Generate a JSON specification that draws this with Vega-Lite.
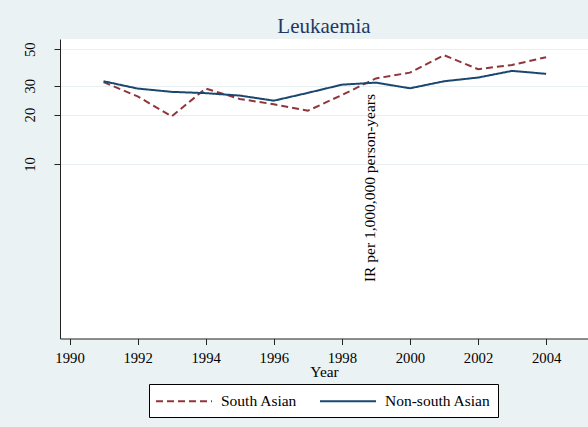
{
  "$schema": "https://vega.github.io/schema/vega-lite/v6.json",
  "autosize": {"type": "none"},
  "width": 528,
  "height": 299.5,
  "padding": {"left": 60, "top": 39, "right": 0, "bottom": 88.5},
  "background": "#eaf2f3",
  "title": {"text": "Leukaemia", "fontSize": 21, "font": "Liberation Serif", "fontWeight": "normal", "color": "#1e3765", "anchor": "middle", "baseline": "alphabetic", "offset": -15.3, "frame": "group"},
  "data": {"values": [
    {"year": 1991, "group": "South Asian", "ir": 31.5},
    {"year": 1992, "group": "South Asian", "ir": 25.8},
    {"year": 1993, "group": "South Asian", "ir": 19.5},
    {"year": 1994, "group": "South Asian", "ir": 28.8},
    {"year": 1995, "group": "South Asian", "ir": 24.9},
    {"year": 1996, "group": "South Asian", "ir": 23.1},
    {"year": 1997, "group": "South Asian", "ir": 21.1},
    {"year": 1998, "group": "South Asian", "ir": 26.3},
    {"year": 1999, "group": "South Asian", "ir": 33.2},
    {"year": 2000, "group": "South Asian", "ir": 36.0},
    {"year": 2001, "group": "South Asian", "ir": 46.0},
    {"year": 2002, "group": "South Asian", "ir": 37.8},
    {"year": 2003, "group": "South Asian", "ir": 40.1},
    {"year": 2004, "group": "South Asian", "ir": 44.7},
    {"year": 1991, "group": "Non-south Asian", "ir": 31.9},
    {"year": 1992, "group": "Non-south Asian", "ir": 28.8},
    {"year": 1993, "group": "Non-south Asian", "ir": 27.5},
    {"year": 1994, "group": "Non-south Asian", "ir": 27.0},
    {"year": 1995, "group": "Non-south Asian", "ir": 26.1},
    {"year": 1996, "group": "Non-south Asian", "ir": 24.3},
    {"year": 1997, "group": "Non-south Asian", "ir": 27.1},
    {"year": 1998, "group": "Non-south Asian", "ir": 30.4},
    {"year": 1999, "group": "Non-south Asian", "ir": 31.3},
    {"year": 2000, "group": "Non-south Asian", "ir": 28.9},
    {"year": 2001, "group": "Non-south Asian", "ir": 31.9},
    {"year": 2002, "group": "Non-south Asian", "ir": 33.6},
    {"year": 2003, "group": "Non-south Asian", "ir": 36.9},
    {"year": 2004, "group": "Non-south Asian", "ir": 35.4}
  ]},
  "mark": {"type": "line", "strokeWidth": 2},
  "encoding": {
    "x": {
      "field": "year", "type": "quantitative",
      "scale": {"domain": [1989.72, 2005.23], "nice": false, "zero": false},
      "axis": {
        "values": [1990, 1992, 1994, 1996, 1998, 2000, 2002, 2004],
        "format": "d",
        "title": "Year",
        "titleFont": "Liberation Serif", "titleFontSize": 15.4, "titleFontWeight": "normal", "titleColor": "#000",
        "titleBaseline": "alphabetic", "titleY": 38.4,
        "labelFont": "Liberation Serif", "labelFontSize": 14.7, "labelColor": "#000",
        "labelPadding": 6, "labelFlush": false, "labelOverlap": false,
        "tickSize": 6, "tickColor": "#222", "domainColor": "#222", "grid": false
      }
    },
    "y": {
      "field": "ir", "type": "quantitative",
      "scale": {"type": "log", "domain": [0.865, 57.7], "nice": false},
      "axis": {
        "values": [10, 20, 30, 50],
        "format": "d",
        "title": "IR per 1,000,000 person-years",
        "titleFont": "Liberation Serif", "titleFontSize": 15.5, "titleFontWeight": "normal", "titleColor": "#000",
        "titleAngle": 270, "titleX": 314, "titleY": 148.5, "titleAlign": "center", "titleBaseline": "alphabetic",
        "labelFont": "Liberation Serif", "labelFontSize": 14.7, "labelColor": "#000",
        "labelAngle": 270, "labelAlign": "center", "labelBaseline": "alphabetic", "labelPadding": 19.5,
        "labelOverlap": false, "labelFlush": false,
        "tickSize": 6, "tickColor": "#222", "domainColor": "#222",
        "grid": true, "gridColor": "#e6eff1", "gridWidth": 1
      }
    },
    "color": {
      "field": "group", "type": "nominal",
      "scale": {"domain": ["South Asian", "Non-south Asian"], "range": ["#90353b", "#1a476f"]},
      "legend": {"title": null, "orient": "none", "legendX": 89, "legendY": 345, "direction": "horizontal"}
    },
    "strokeDash": {
      "field": "group", "type": "nominal",
      "scale": {"domain": ["South Asian", "Non-south Asian"], "range": [[7, 4], [1, 0]]},
      "legend": {"title": null, "orient": "none", "legendX": 89, "legendY": 345, "direction": "horizontal"}
    }
  },
  "config": {
    "view": {"fill": "#ffffff", "stroke": null},
    "legend": {
      "strokeColor": "#000", "fillColor": "#fff", "padding": 7,
      "symbolType": "M-3.111,0H3.111", "symbolSize": 324, "symbolStrokeWidth": 2, "symbolOffset": 18,
      "labelFont": "Liberation Serif", "labelFontSize": 15.5, "labelColor": "#000",
      "labelOffset": 27, "columnPadding": 18, "labelLimit": 0
    }
  }
}
